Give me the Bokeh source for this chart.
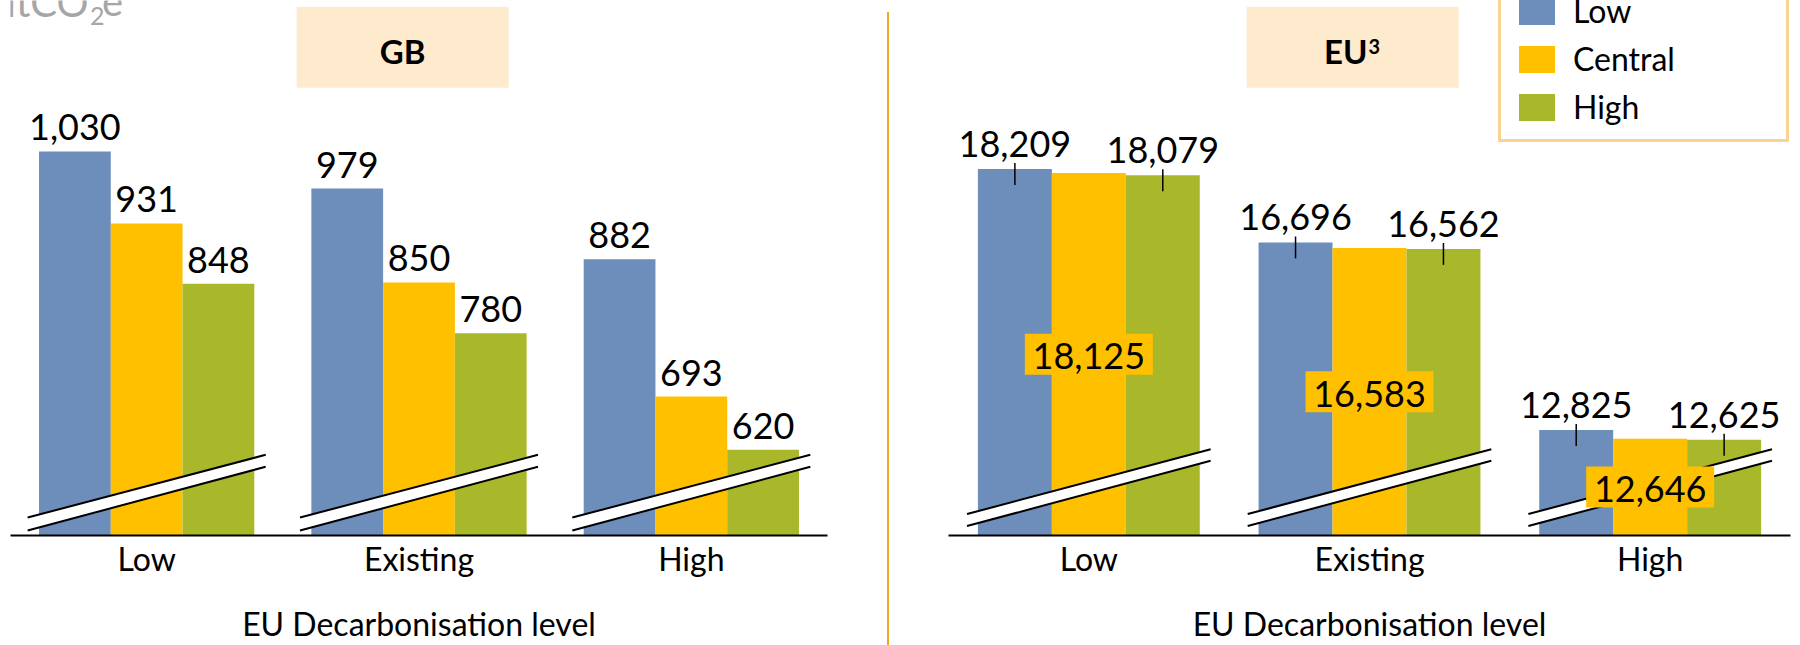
from bokeh.plotting import figure
from bokeh.models import (FactorRange, Range1d, ColumnDataSource, Label, Legend,
                          LegendItem, Div)
from bokeh.layouts import row
from bokeh.transform import dodge
from bokeh.core.properties import value
from bokeh.embed import file_html
from bokeh.resources import INLINE

# ---------------- data ----------------
levels = ["Low", "Existing", "High"]          # EU decarbonisation level
series = ["Low", "Central", "High"]           # scenario
gb_low = [1030, 979, 882]
gb_central = [931, 850, 693]
gb_high = [848, 780, 620]
eu_low = [18209, 16696, 12825]
eu_central = [18125, 16583, 12646]
eu_high = [18079, 16562, 12625]
gb_title = "GB"
eu_title = ["EU", "3"]
x_title = "EU Decarbonisation level"
unit_parts = ["MtCO", "2", "e"]

# ---------------- style ----------------
COLORS = ["#6d8dba", "#ffc000", "#a8b82a"]
ORANGE = "#f5a623"
TITLE_FILL = "#feebcd"
FONT = "Lato"
H = 645
FRAME_H = 537
BAR_W = 0.2635
FIX = 0.3   # baseline correction (em) for alphabetic text in svg


def panel(vals, y0, ppu, width, bl, br, brk, eu):
    y1 = y0 + FRAME_H / ppu
    p = figure(x_range=FactorRange(*levels, range_padding=0),
               y_range=Range1d(y0, y1), width=width, height=H,
               output_backend="svg", toolbar_location=None,
               y_axis_location=None,
               min_border_left=bl, min_border_right=br,
               min_border_top=0, min_border_bottom=H - FRAME_H)
    p.outline_line_color = None
    p.grid.visible = False
    p.background_fill_color = "white"
    p.border_fill_color = "white"

    def ydat(px_from_top):
        return y0 + (FRAME_H - px_from_top) / ppu

    keys = ["low", "central", "high"]
    data = dict(level=levels)
    for k, v in zip(keys, vals):
        data[k] = v
        data[k + "_txt"] = [f"{x:,}" for x in v]
        data[k + "_lt"] = [x + 6 / ppu for x in v]
        data[k + "_lb"] = [x - 16 / ppu for x in v]
        data[k + "_mid"] = [(x + y0) / 2 for x in v]
    src = ColumnDataSource(data)
    offs = [-BAR_W, 0, BAR_W]

    rends = []
    for k, off, c in zip(keys, offs, COLORS):
        r = p.vbar(x=dodge("level", off, range=p.x_range), top=k, bottom=y0,
                   width=BAR_W, source=src, fill_color=c, line_color=None)
        rends.append(r)

    # axis-break marks
    lo_l, lo_r, up_l, up_r, half = brk
    xs, ys, sx0, sy0, sx1, sy1 = [], [], [], [], [], []
    for i in range(len(levels)):
        xl, xr = i + 0.5 - half, i + 0.5 + half
        a, b = y0 + lo_l / ppu, y0 + lo_r / ppu
        c_, d = y0 + up_l / ppu, y0 + up_r / ppu
        xs.append([xl, xr, xr, xl])
        ys.append([a, b, d, c_])
        sx0 += [xl, xl]; sy0 += [a, c_]; sx1 += [xr, xr]; sy1 += [b, d]
    p.patches(xs=xs, ys=ys, fill_color="white", line_color=None)
    p.segment(x0=sx0, y0=sy0, x1=sx1, y1=sy1, line_color="black", line_width=2)

    fs = 36
    tkw = dict(text_font=value(FONT), text_font_size=f"{fs}px", text_color="black",
               text_align="center", text_baseline="alphabetic")
    fix = round(FIX * fs)
    if eu:
        for k, off in (("low", -BAR_W), ("high", BAR_W)):
            p.segment(x0=dodge("level", off, range=p.x_range), y0=k + "_lt",
                      x1=dodge("level", off, range=p.x_range), y1=k + "_lb",
                      source=src, line_color="black", line_width=1.5)
            p.text(x=dodge("level", off, range=p.x_range), y=k, text=k + "_txt",
                   source=src, y_offset=-14 - fix, **tkw)
        p.rect(x=dodge("level", 0, range=p.x_range), y="central_mid", width=128,
               height=41, width_units="screen", height_units="screen",
               source=src, fill_color=COLORS[1], line_color=None)
        p.text(x=dodge("level", 0, range=p.x_range), y="central_mid",
               text="central_txt", source=src, y_offset=13 - fix, **tkw)
    else:
        for k, off in zip(keys, offs):
            p.text(x=dodge("level", off, range=p.x_range), y=k, text=k + "_txt",
                   source=src, y_offset=-13 - fix, **tkw)

    # panel title box
    p.rect(x=[1.44], y=[ydat(47)], width=212, height=81, width_units="screen",
           height_units="screen", fill_color=TITLE_FILL, line_color=None)

    ax = p.xaxis[0]
    ax.axis_line_color = "black"
    ax.axis_line_width = 2
    ax.major_tick_line_color = None
    ax.minor_tick_line_color = None
    ax.major_tick_out = 0
    ax.major_tick_in = 0
    ax.major_label_text_font = FONT
    ax.major_label_text_font_size = "32px"
    ax.major_label_text_color = "black"
    ax.major_label_text_line_height = 1.0
    ax.major_label_standoff = 3
    ax.axis_label = x_title
    ax.axis_label_text_font = FONT
    ax.axis_label_text_font_size = "32px"
    ax.axis_label_text_font_style = "normal"
    ax.axis_label_text_color = "black"
    ax.axis_label_text_line_height = 1.0
    ax.axis_label_standoff = 23
    return p, rends, ydat


# GB panel: frame page x 10..827
p1, r1, yd1 = panel([gb_low, gb_central, gb_high], 502, 0.730, 887, 10, 60,
                    (5, 69, 18, 81, 0.437), False)
# EU panel: frame page x 948..1790
p2, r2, yd2 = panel([eu_low, eu_central, eu_high], 10650, 0.04866, 911, 59, 10,
                    (9.5, 75, 21.5, 86.5, 0.434), True)

ttl = dict(text_font=value(FONT), text_font_style="bold", text_color="black",
           text_baseline="alphabetic")
p1.text(x=[1.44], y=[yd1(60.5 - FIX * 33)], text=[gb_title], text_font_size="33px",
        text_align="center", **ttl)
cat2 = 842 / 3
p2.text(x=[(1367 - 948) / cat2], y=[yd2(61 - FIX * 33)], text=[eu_title[0]],
        text_font_size="33px", text_align="right", **ttl)
p2.text(x=[(1368 - 948) / cat2], y=[yd2(52 - FIX * 20)], text=[eu_title[1]],
        text_font_size="20px", text_align="left", **ttl)

# unit label (top-left, partly cut off as in the original)
cat1 = 817 / 3
gray = "#a6a6a6"
p1.add_layout(Label(x=(88 - 10) / cat1, y=yd1(13.3 - FIX * 40), text=unit_parts[0],
                    text_font=FONT, text_font_size="40px", text_color=gray,
                    text_align="right", text_baseline="alphabetic"))
p1.add_layout(Label(x=(89.5 - 10) / cat1, y=yd1(22.7 - FIX * 25), text=unit_parts[1],
                    text_font=FONT, text_font_size="25px", text_color=gray,
                    text_align="left", text_baseline="alphabetic"))
p1.add_layout(Label(x=(101.5 - 10) / cat1, y=yd1(13.3 - FIX * 40), text=unit_parts[2],
                    text_font=FONT, text_font_size="40px", text_color=gray,
                    text_align="left", text_baseline="alphabetic"))

legend = Legend(items=[LegendItem(label=s, renderers=[r]) for s, r in zip(series, r2)],
                location=(550, 393), orientation="vertical",
                glyph_width=45, glyph_height=34, label_standoff=14, spacing=9,
                padding=13, margin=0, label_width=200,
                label_text_font=FONT, label_text_font_size="32px",
                label_text_line_height=1.0, label_height=34,
                label_text_color="black",
                border_line_color=ORANGE, border_line_width=3,
                background_fill_color="white", background_fill_alpha=1)
p2.add_layout(legend)

divider = Div(text="", width=2, height=633, margin=(12, 0, 0, 0),
              styles={"background-color": ORANGE})

layout = row(p1, divider, p2)

open("out.html", "w").write(file_html(layout, INLINE))
